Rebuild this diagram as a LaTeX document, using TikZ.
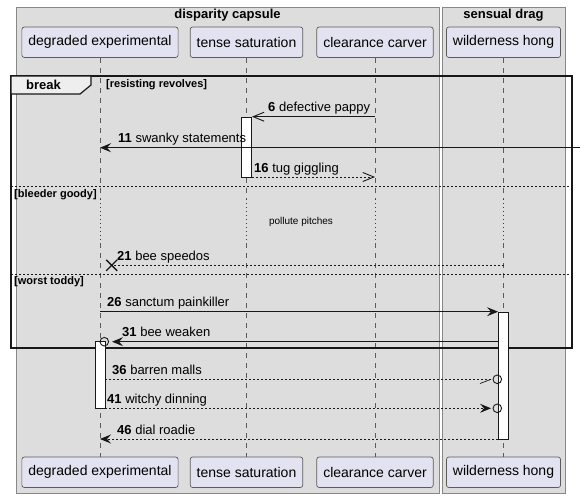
\documentclass[tikz,border=0pt]{standalone}
\usepackage{fontspec}
\setmainfont{Liberation Sans}
\usetikzlibrary{arrows.meta}
\definecolor{grpfill}{HTML}{DDDDDD}
\definecolor{grpline}{HTML}{888888}
\definecolor{partfill}{HTML}{E2E2F0}
\definecolor{partline}{HTML}{5B5B5B}
\definecolor{lifec}{HTML}{5B5B5B}
\definecolor{delayc}{HTML}{8B1A3A}
\definecolor{tabfill}{HTML}{EEEEEE}
\definecolor{ink}{HTML}{181818}
\begin{document}
\begin{tikzpicture}[x=1pt,y=-1pt,
  part/.style={draw=partline, fill=partfill, rounded corners=2.5pt, minimum height=30.5pt,
    inner xsep=6.5pt, inner ysep=0pt, line width=0.7pt, font=\fontsize{14}{16}\selectfont},
  grp/.style={draw=grpline, fill=grpfill, line width=0.8pt},
  grptitle/.style={font=\fontsize{13}{15}\selectfont\bfseries, inner sep=0pt},
  life/.style={draw=lifec, line width=0.7pt, dash pattern=on 5pt off 5pt},
  delayline/.style={draw=delayc, line width=0.8pt, dash pattern=on 1pt off 3pt},
  act/.style={draw=ink, fill=white, line width=0.9pt, minimum width=10pt, inner sep=0pt},
  msg/.style={draw=ink, line width=0.9pt},
  dmsg/.style={draw=ink, line width=0.9pt, dash pattern=on 2pt off 2pt},
  lbl/.style={font=\fontsize{13}{15}\selectfont, inner sep=0pt, anchor=base west},
  guard/.style={font=\fontsize{11}{13}\selectfont\bfseries, inner sep=0pt, anchor=west},
  sep/.style={draw=ink, line width=0.8pt, dash pattern=on 2pt off 2pt},
  circ/.style={circle, draw=ink, line width=0.9pt, minimum size=8.6pt, inner sep=0pt},
  fhead/.style={-{Stealth[length=11pt,width=9pt,inset=4pt]}},
  ohead/.style={-{Straight Barb[length=11pt,width=9pt]}},
]
\useasboundingbox (0,0) rectangle (586,498);
\fill[white] (0,0) rectangle (586,498);
% groups
\draw[grp] (16,7) rectangle (439,493);
\draw[grp] (442,7) rectangle (565,493);
\node[grptitle] (g1) at (227.5,15) {disparity capsule};
\node[grptitle] (g2) at (503.5,15) {sensual drag};
% participants
\node[part] (p1t) at (100,42.25) {degraded experimental};
\node[part] (p2t) at (246.5,42.25) {tense saturation};
\node[part] (p3t) at (375,42.25) {clearance carver};
\node[part] (p4t) at (503.5,42.25) {wilderness hong};
\node[part] (p1b) at (100,472.25) {degraded experimental};
\node[part] (p2b) at (246.5,472.25) {tense saturation};
\node[part] (p3b) at (375,472.25) {clearance carver};
\node[part] (p4b) at (503.5,472.25) {wilderness hong};
% delay levels
\coordinate (d0) at (0,199);
\coordinate (d1) at (0,243);
\foreach \p in {1,2,3,4}{
  \draw[life] (p\p t.south) -- (p\p t.south |- d0);
  \draw[delayline] (p\p t.south |- d0) -- (p\p t.south |- d1);
  \draw[life] (p\p t.south |- d1) -- (p\p b.north);
}
\node[font=\fontsize{10}{12}\selectfont, inner sep=0pt] (dly) at (301,222) {pollute pitches};
% break frame
\draw[ink, line width=1.5pt] (11,76) rectangle (572,348);
\draw[ink, line width=1.2pt, fill=tabfill] (11,76) -- (91,76) -- (91,85) -- (80,94) -- (11,94) -- cycle;
\node[font=\fontsize{13}{15}\selectfont\bfseries, inner sep=0pt] (brk) at (43.5,85) {break};
\node[guard] (gd1) at (106,85) {[resisting revolves]};
\draw[sep] (11,186.7) -- (572,186.7);
\node[guard] (gd2) at (14,194.5) {[bleeder goody]};
\draw[sep] (11,274) -- (572,274);
\node[guard] (gd3) at (14,282) {[worst toddy]};
% activations
\node[act, minimum height=60pt] (a1) at (246.5,147) {};
\node[act, minimum height=127pt] (a2) at (503.5,375.5) {};
\node[act, minimum height=66.3pt] (a3) at (100,374.85) {};
% message levels
\coordinate (y6) at (0,116.7);
\coordinate (y11) at (0,147.7);
\coordinate (y16) at (0,177);
\coordinate (y26) at (0,311.7);
\coordinate (y46) at (0,439);
\coordinate (src11) at (580,147.7);
% m6
\draw[msg, ohead] (p3t.south |- y6) -- (a1.east |- y6);
\node[lbl] (l6) at (268,111.7) {\textbf{6} defective pappy};
% m11
\draw[msg, fhead] (src11) -- (p1t.south |- y11);
\node[lbl] (l11) at (118,142.7) {\textbf{11} swanky statements};
% m16
\draw[dmsg, ohead] (a1.east |- y16) -- (p3t.south |- y16);
\node[lbl] (l16) at (254,172) {\textbf{16} tug giggling};
% m21
\coordinate (x21) at (111.7,265.3);
\draw[dmsg] (p4t.south |- x21) -- (x21);
\draw[ink, line width=1.4pt] ([xshift=-5.5pt,yshift=5.5pt]x21) -- ([xshift=5.5pt,yshift=-5.5pt]x21)
  ([xshift=-5.5pt,yshift=-5.5pt]x21) -- ([xshift=5.5pt,yshift=5.5pt]x21);
\node[lbl] (l21) at (117,260.3) {\textbf{21} bee speedos};
% m26
\draw[msg, fhead] (p1t.south |- y26) -- (a2.west |- y26);
\node[lbl] (l26) at (107,306.7) {\textbf{26} sanctum painkiller};
% m31
\node[circ] (c31) at (104.3,341.7) {};
\draw[msg, fhead] (a2.west |- c31) -- ([xshift=3pt]c31.east);
\node[lbl] (l31) at (122,336.7) {\textbf{31} bee weaken};
% m36
\node[circ] (c36) at (497.3,379.3) {};
\draw[dmsg] (a3.east |- c36) -- (c36.west);
\coordinate (h36) at (480,383.5);
\draw[ink, line width=0.7pt] (h36) -- ([xshift=-1.5pt]c36.west);
\node[lbl] (l36) at (112,374.3) {\textbf{36} barren malls};
% m41
\node[circ] (c41) at (497.3,408.3) {};
\draw[dmsg, fhead] (a3.east |- c41) -- ([xshift=-1.5pt]c41.west);
\node[lbl] (l41) at (107,403.3) {\textbf{41} witchy dinning};
% m46
\draw[dmsg, fhead] (a2.west |- y46) -- (p1t.south |- y46);
\node[lbl] (l46) at (117,434) {\textbf{46} dial roadie};
\end{tikzpicture}
\end{document}
